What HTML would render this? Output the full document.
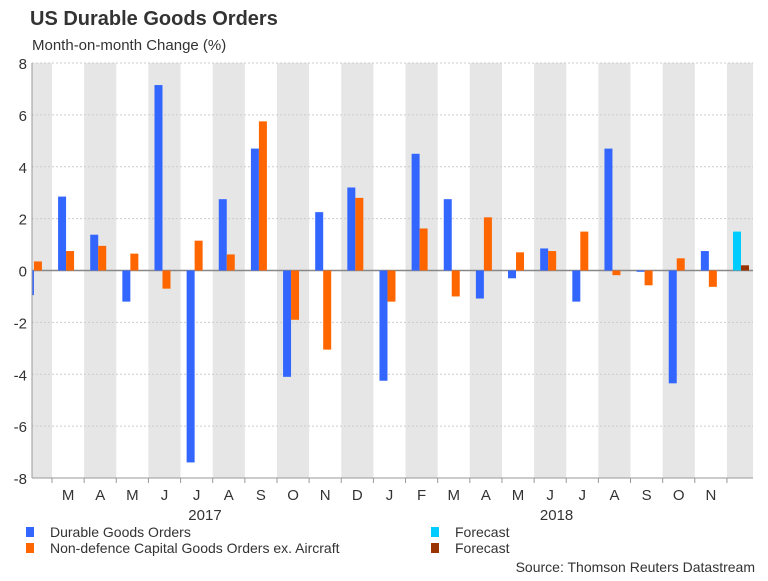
<!DOCTYPE html>
<html><head><meta charset="utf-8"><style>
body{margin:0;background:#fff;font-family:"Liberation Sans",sans-serif;}
svg text{font-family:"Liberation Sans",sans-serif;}
</style></head><body>
<svg id="chart" width="768" height="576" viewBox="0 0 768 576">
<text x="30" y="25" font-size="20" font-weight="bold" fill="#333">US Durable Goods Orders</text>
<text x="32" y="50" font-size="15" fill="#333">Month-on-month Change (%)</text>
<g id="bands"></g><g id="grid"></g><g id="bars"></g><g id="axes"></g>
<g>
<rect x="26" y="527" width="8" height="10" fill="#3366ff"/>
<text x="50" y="537" font-size="14" fill="#333">Durable Goods Orders</text>
<rect x="26" y="543" width="8" height="10" fill="#ff6600"/>
<text x="50" y="553" font-size="14" fill="#333">Non-defence Capital Goods Orders ex. Aircraft</text>
<rect x="431" y="527" width="8" height="10" fill="#00ccff"/>
<text x="455" y="537" font-size="14" fill="#333">Forecast</text>
<rect x="431" y="543" width="8" height="10" fill="#993300"/>
<text x="455" y="553" font-size="14" fill="#333">Forecast</text>
</g>
<text x="755" y="572" font-size="14" fill="#333" text-anchor="end">Source: Thomson Reuters Datastream</text>
</svg>
<script>
const months = ["J","M","A","M","J","J","A","S","O","N","D","J","F","M","A","M","J","J","A","S","O","N","D"];
const durable = [-0.95,2.85,1.38,-1.2,7.15,-7.4,2.75,4.7,-4.1,2.25,3.2,-4.25,4.5,2.75,-1.08,-0.3,0.85,-1.2,4.7,-0.05,-4.35,0.75,1.5];
const capital = [0.35,0.75,0.95,0.65,-0.7,1.15,0.62,5.75,-1.9,-3.05,2.8,-1.2,1.62,-1.0,2.05,0.7,0.75,1.5,-0.18,-0.57,0.47,-0.63,0.2];
const forecastIndex = 22;
const yTicks = [8,6,4,2,0,-2,-4,-6,-8];
const yearLabels = ["2017","2018"];
const yearColumn = [5.26,16.2];

const NS="http://www.w3.org/2000/svg";
const L=32,R=753,T=63,B=478,W=32.14,X1=52;
const y=v=>T+(8-v)*(B-T)/16;
const colStart=i=>X1+(i-1)*W;
function mk(tag,attrs,parent){const e=document.createElementNS(NS,tag);for(const k in attrs)e.setAttribute(k,attrs[k]);document.getElementById(parent).appendChild(e);return e;}
for(let i=0;i<months.length;i++){
  if(i%2===0){
    const x0=Math.max(L,colStart(i)),x1=Math.min(R,colStart(i)+W);
    const r=mk("rect",{x:x0,y:T,width:x1-x0,height:B-T,fill:"#e6e6e6"},"bands");
    
    
  }
}
yTicks.forEach(v=>{
  const ln=mk("line",{x1:L,x2:R,y1:y(v),y2:y(v),stroke:v===0?"#888":"#ccc","stroke-width":v===0?1.5:1,"stroke-dasharray":v===0?"":"2,2"},"grid");
  
  
  const t=mk("text",{x:27,y:y(v)+6,"font-size":15,fill:"#333","text-anchor":"end"},"axes");
  t.textContent=String(v);
  
  
});
function bar(i,v,off,color,name){
  let x0=colStart(i)+W/2-10+off,x1=x0+8;
  x0=Math.max(L,x0);x1=Math.min(R,x1);
  if(x1<=x0)return;
  const r=mk("rect",{x:x0,y:Math.min(y(v),y(0)),width:x1-x0,height:Math.abs(y(v)-y(0)),fill:color},"bars");
  
  
}
for(let i=0;i<months.length;i++){
  const f=i===forecastIndex;
  bar(i,durable[i],0,f?"#00ccff":"#3366ff",f?"bar-forecast-durable":"bar-durable");
  bar(i,capital[i],8,f?"#993300":"#ff6600",f?"bar-forecast-capital":"bar-capital");
}
let ax=mk("line",{x1:L,x2:L,y1:T,y2:B,stroke:"#999"},"axes");

ax=mk("line",{x1:L,x2:R,y1:B,y2:B,stroke:"#999"},"axes");

for(let i=1;i<months.length;i++){
  const tk=mk("line",{x1:colStart(i),x2:colStart(i),y1:B,y2:B+5,stroke:"#999"},"axes");
  
  if(i<months.length-1){
    const t=mk("text",{x:colStart(i)+W/2,y:500,"font-size":15,fill:"#333","text-anchor":"middle"},"axes");
    t.textContent=months[i];
    
  }
}
yearLabels.forEach((lab,k)=>{
  const t=mk("text",{x:colStart(yearColumn[k])+W/2,y:520,"font-size":15,fill:"#333","text-anchor":"middle"},"axes");
  t.textContent=lab;
  
});
</script>
</body></html>
